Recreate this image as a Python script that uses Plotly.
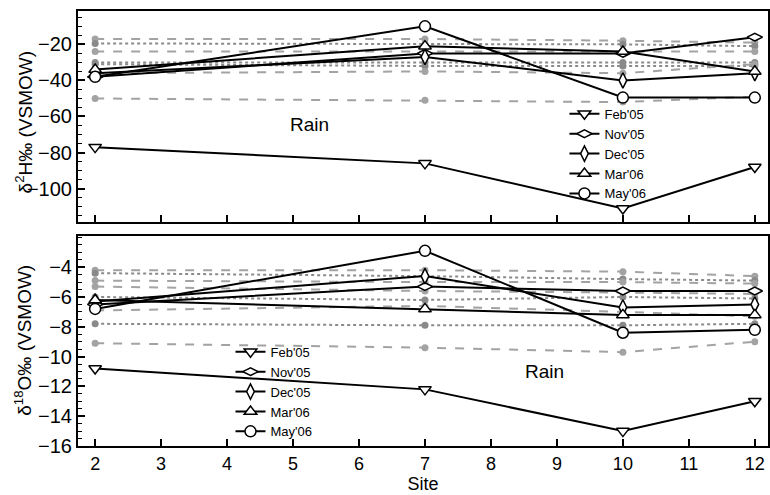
import plotly.graph_objects as go

sites = [2, 7, 10, 12]

# Black (rain) series, top panel: delta 2H
h_feb05 = [-77, -86, -111, -88]
h_nov05 = [-38, -25, -25, -16]
h_dec05 = [-36, -27, -40, -36]
h_mar06 = [-34, -21, -24, -35]
h_may06 = [-38, -10, -49.5, -49.5]

# Black (rain) series, bottom panel: delta 18O
o_feb05 = [-10.8, -12.2, -15.0, -13.0]
o_nov05 = [-6.5, -5.3, -5.6, -5.6]
o_dec05 = [-6.3, -4.6, -6.7, -6.5]
o_mar06 = [-6.2, -6.8, -7.2, -7.2]
o_may06 = [-6.8, -2.9, -8.4, -8.2]

# Gray reference series (top)
h_gray = [
    [-17, -17, -18, -19],
    [-19.5, -20, -20, -21],
    [-24, -24, -24, -24],
    [-30, -30, -30, -30],
    [-31, -32, -32, -32],
    [-36, -35, -36, -31],
    [-50, -51, -52, -49],
]
h_gray_style = ["dash", "dot", "dash", "dot", "dot", "dash", "dash"]

# Gray reference series (bottom)
o_gray = [
    [-4.2, -4.2, -4.3, -4.6],
    [-4.4, -4.6, -4.8, -4.9],
    [-4.9, -5.0, -5.0, -5.1],
    [-5.3, -5.6, -5.7, -5.8],
    [-6.0, -6.2, -6.0, -6.1],
    [-6.9, -6.6, -7.0, -7.3],
    [-7.8, -7.9, -7.9, -7.8],
    [-9.1, -9.4, -9.7, -9.0],
]
o_gray_style = ["dash", "dot", "dash", "dash", "dot", "dash", "dot", "dash"]

names = ["Feb'05", "Nov'05", "Dec'05", "Mar'06", "May'06"]
symbols = ["triangle-down", "diamond-wide", "diamond-tall", "triangle-up", "circle"]
h_series = [h_feb05, h_nov05, h_dec05, h_mar06, h_may06]
o_series = [o_feb05, o_nov05, o_dec05, o_mar06, o_may06]

h_ticks = [-100, -80, -60, -40, -20]
o_ticks = [-16, -14, -12, -10, -8, -6, -4]
site_ticks = list(range(2, 13))

FONT = "Liberation Sans, Arial, sans-serif"

fig = go.Figure()

for vals, st in zip(h_gray, h_gray_style):
    col = "#a3a3a3" if st == "dash" else "#8a8a8a"
    fig.add_trace(go.Scatter(x=sites, y=vals, mode="lines+markers", showlegend=False,
                             line=dict(color=col, width=2, dash=st),
                             marker=dict(symbol="circle", size=7, color=col),
                             xaxis="x", yaxis="y"))
for vals, st in zip(o_gray, o_gray_style):
    col = "#a3a3a3" if st == "dash" else "#8a8a8a"
    fig.add_trace(go.Scatter(x=sites, y=vals, mode="lines+markers", showlegend=False,
                             line=dict(color=col, width=2, dash=st),
                             marker=dict(symbol="circle", size=7, color=col),
                             xaxis="x2", yaxis="y2"))

for name, sym, vals in zip(names, symbols, h_series):
    fig.add_trace(go.Scatter(x=sites, y=vals, mode="lines+markers", name=name,
                             line=dict(color="black", width=2),
                             marker=dict(symbol=sym, size=11, color="white",
                                         line=dict(color="black", width=1.5)),
                             xaxis="x", yaxis="y", legend="legend"))
for name, sym, vals in zip(names, symbols, o_series):
    fig.add_trace(go.Scatter(x=sites, y=vals, mode="lines+markers", name=name,
                             line=dict(color="black", width=2),
                             marker=dict(symbol=sym, size=11, color="white",
                                         line=dict(color="black", width=1.5)),
                             xaxis="x2", yaxis="y2", legend="legend2"))

axis_common = dict(showline=True, linecolor="black", linewidth=2, mirror=True,
                   ticks="inside", tickcolor="black", tickwidth=1.5, showgrid=False,
                   zeroline=False, tickfont=dict(size=20, color="black", family=FONT))

fig.update_layout(
    width=770, height=495,
    margin=dict(l=78, r=0, t=11, b=49),
    paper_bgcolor="white", plot_bgcolor="white",
    font=dict(family=FONT, color="black"),
    xaxis=dict(axis_common, domain=[0, 1], range=[1.74, 12.2], tickvals=site_ticks,
               showticklabels=False, ticklen=7, anchor="y"),
    yaxis=dict(axis_common, domain=[0.515, 1], range=[-118.5, -1.5], tickvals=h_ticks,
               ticklen=7, anchor="x",
               minor=dict(dtick=5, tick0=0, ticks="inside", ticklen=4, tickcolor="black", tickwidth=1)),
    xaxis2=dict(axis_common, domain=[0, 1], range=[1.74, 12.2], tickvals=site_ticks,
                ticklen=7, anchor="y2", tickfont=dict(size=18, color="black", family=FONT),
                title=dict(text="Site", font=dict(size=18, family=FONT), standoff=3)),
    yaxis2=dict(axis_common, domain=[0, 0.483], range=[-16, -1.9], tickvals=o_ticks,
                ticklen=7, anchor="x2",
                minor=dict(dtick=0.5, tick0=0, ticks="inside", ticklen=4, tickcolor="black", tickwidth=1)),
    legend=dict(x=0.705, y=0.798, xanchor="left", yanchor="top", bgcolor="rgba(0,0,0,0)",
                font=dict(size=13, family=FONT), tracegroupgap=0),
    legend2=dict(x=0.221, y=0.251, xanchor="left", yanchor="top", bgcolor="rgba(0,0,0,0)",
                 font=dict(size=13, family=FONT), tracegroupgap=0),
    annotations=[
        dict(text="Rain", xref="x", yref="y", x=5.25, y=-64.5, showarrow=False,
             font=dict(size=19, family=FONT)),
        dict(text="Rain", xref="x2", yref="y2", x=8.81, y=-11.0, showarrow=False,
             font=dict(size=19, family=FONT)),
        dict(text="δ<sup>2</sup>H‰ (VSMOW)", xref="paper", yref="paper", textangle=-90,
             x=-0.079, y=0.745, xanchor="center", yanchor="middle", showarrow=False,
             font=dict(size=19, family=FONT)),
        dict(text="δ<sup>18</sup>O‰ (VSMOW)", xref="paper", yref="paper", textangle=-90,
             x=-0.079, y=0.243, xanchor="center", yanchor="middle", showarrow=False,
             font=dict(size=19, family=FONT)),
    ],
)

fig.write_html("out.html")
